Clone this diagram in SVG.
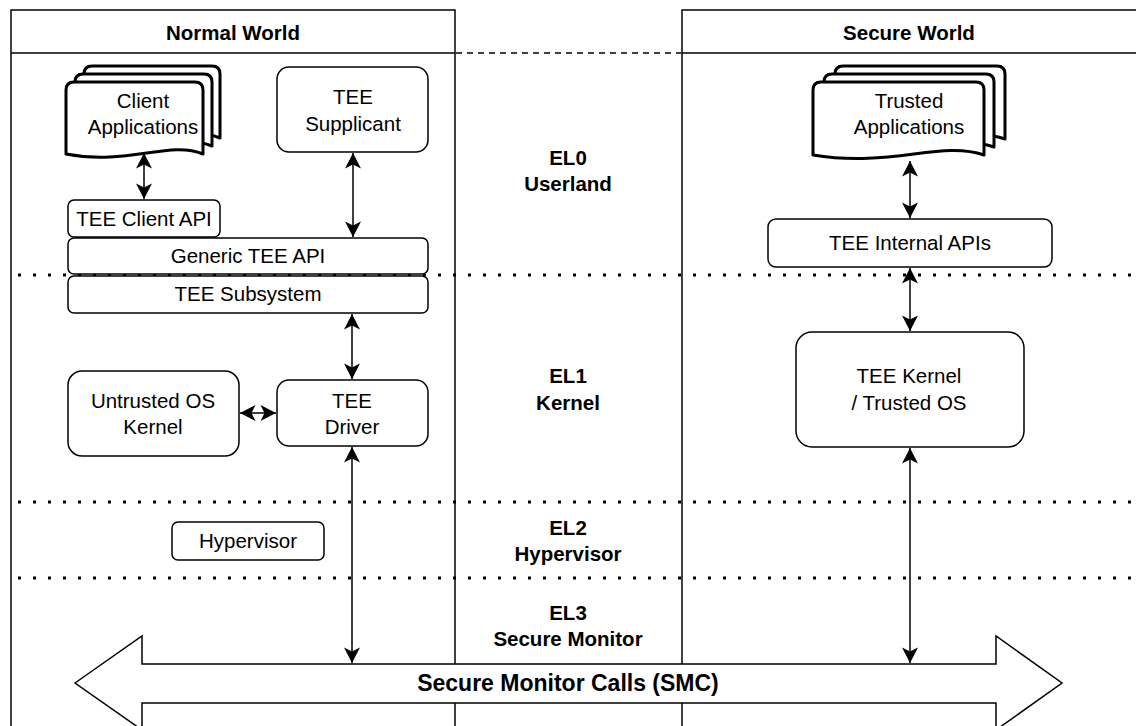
<svg xmlns="http://www.w3.org/2000/svg" width="1136" height="726" viewBox="0 0 1136 726">
  <style>
    .frame { fill: none; stroke: #000; stroke-width: 1.5; }
    .dots { fill: none; stroke: #000; stroke-width: 3; stroke-dasharray: 3 12; stroke-dashoffset: 8; }
    .dash { fill: none; stroke: #000; stroke-width: 1.5; stroke-dasharray: 6 5; }
    .box { fill: #fff; stroke: #000; stroke-width: 1.5; }
    .doc { fill: #fff; stroke: #000; stroke-width: 3; stroke-linejoin: round; }
    .link { fill: none; stroke: #000; stroke-width: 1.5; marker-start: url(#ah); marker-end: url(#ah); }
    text { font-family: "Liberation Sans", Arial, Helvetica, sans-serif; font-size: 20.5px; fill: #000; text-anchor: middle; }
    .b { font-weight: bold; }
    .smc { font-weight: bold; font-size: 23px; }
  </style>
  <defs>
    <!-- filled arrowhead with a shallow notch, used at both ends of every link -->
    <marker id="ah" viewBox="0 0 18 18" refX="16.5" refY="9" markerWidth="18" markerHeight="18" markerUnits="userSpaceOnUse" orient="auto-start-reverse">
      <path d="M1,1 L16.5,9 L1,17 L5,9 Z" fill="#000"/>
    </marker>
  </defs>

  <!-- world frames -->
  <g id="normal-world">
    <path class="frame" d="M11,726 V10 H455 V726 M11,53 H455"/>
    <text class="b" x="233" y="40">Normal World</text>
  </g>
  <g id="secure-world">
    <path class="frame" d="M682,726 V10 H1140 M682,53 H1140"/>
    <text class="b" x="909" y="40">Secure World</text>
  </g>
  <path class="dash" d="M456,53 H681"/>

  <!-- exception level boundaries -->
  <g id="levels">
    <path class="dots" d="M11,275 H1136"/>
    <path class="dots" d="M11,502 H1136"/>
    <path class="dots" d="M11,578 H1136"/>
    <text class="b" x="568" y="165">EL0</text>
    <text class="b" x="568" y="191">Userland</text>
    <text class="b" x="568" y="383">EL1</text>
    <text class="b" x="568" y="410">Kernel</text>
    <text class="b" x="568" y="535">EL2</text>
    <text class="b" x="568" y="561">Hypervisor</text>
    <text class="b" x="568" y="620">EL3</text>
    <text class="b" x="568" y="646">Secure Monitor</text>
  </g>

  <!-- SMC double arrow -->
  <g id="smc">
    <path class="box" d="M75,683 L142,636 V664 H996 V636 L1062,683 L996,730 V703 H142 V730 Z"/>
    <text class="smc" x="568" y="691">Secure Monitor Calls (SMC)</text>
  </g>

  <!-- connectors -->
  <g id="connectors">
    <path class="link" d="M144,153 V199"/>
    <path class="link" d="M353,153 V237"/>
    <path class="link" d="M352,314 V379"/>
    <path class="link" d="M240,413 H276"/>
    <path class="link" d="M352,447 V663"/>
    <path class="link" d="M910,161 V218"/>
    <path class="link" d="M910,268 V331"/>
    <path class="link" d="M910,448 V663"/>
  </g>

  <!-- normal world nodes -->
  <g id="client-applications">
    <path class="doc" d="M84,74 Q84,66 92,66 H212 Q220,66 220,74 V138 C186,124 145,150 84,138 Z"/>
    <path class="doc" d="M75,82 Q75,74 83,74 H204 Q212,74 212,82 V146 C178,132 137,158 75,146 Z"/>
    <path class="doc" d="M66,90 Q66,82 74,82 H195 Q203,82 203,90 V154 C169,140 128,166 66,154 Z"/>
    <text x="143" y="108">Client</text>
    <text x="143" y="134">Applications</text>
  </g>
  <g id="tee-supplicant">
    <rect class="box" x="277" y="67" width="151" height="85" rx="12"/>
    <text x="353" y="104">TEE</text>
    <text x="353" y="131">Supplicant</text>
  </g>
  <g id="tee-client-api">
    <rect class="box" x="68" y="200" width="152" height="37" rx="6"/>
    <text x="144" y="226">TEE Client API</text>
  </g>
  <g id="generic-tee-api">
    <rect class="box" x="68" y="238" width="360" height="36" rx="6"/>
    <text x="248" y="263">Generic TEE API</text>
  </g>
  <g id="tee-subsystem">
    <rect class="box" x="68" y="276" width="360" height="37" rx="6"/>
    <text x="248" y="301">TEE Subsystem</text>
  </g>
  <g id="untrusted-os-kernel">
    <rect class="box" x="68" y="371" width="171" height="85" rx="14"/>
    <text x="153" y="408">Untrusted OS</text>
    <text x="153" y="434">Kernel</text>
  </g>
  <g id="tee-driver">
    <rect class="box" x="277" y="380" width="151" height="66" rx="12"/>
    <text x="352" y="408">TEE</text>
    <text x="352" y="434">Driver</text>
  </g>
  <g id="hypervisor">
    <rect class="box" x="172" y="522" width="152" height="38" rx="6"/>
    <text x="248" y="548">Hypervisor</text>
  </g>

  <!-- secure world nodes -->
  <g id="trusted-applications">
    <path class="doc" d="M835,74 Q835,66 843,66 H997 Q1005,66 1005,74 V139 C962,124 912,152 835,139 Z"/>
    <path class="doc" d="M824,82 Q824,74 832,74 H986 Q994,74 994,82 V147 C951,132 901,160 824,147 Z"/>
    <path class="doc" d="M813,90 Q813,82 821,82 H976 Q984,82 984,90 V155 C941,140 891,168 813,155 Z"/>
    <text x="909" y="108">Trusted</text>
    <text x="909" y="134">Applications</text>
  </g>
  <g id="tee-internal-apis">
    <rect class="box" x="768" y="219" width="284" height="48" rx="8"/>
    <text x="910" y="250">TEE Internal APIs</text>
  </g>
  <g id="tee-kernel">
    <rect class="box" x="796" y="332" width="228" height="115" rx="16"/>
    <text x="909" y="383">TEE Kernel</text>
    <text x="909" y="410">/ Trusted OS</text>
  </g>
</svg>
